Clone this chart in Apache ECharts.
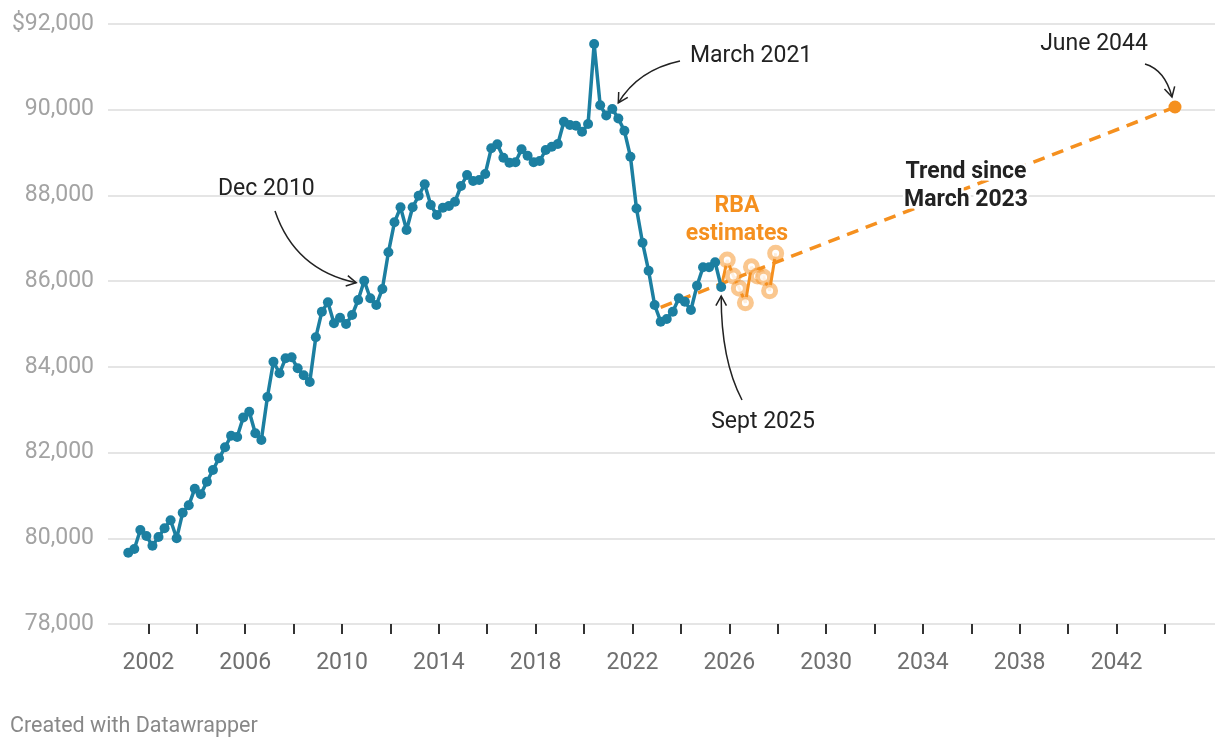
<!DOCTYPE html>
<html><head><meta charset="utf-8">
<script src="https://cdn.jsdelivr.net/npm/echarts@6/dist/echarts.min.js"></script>
<style>html,body{margin:0;padding:0;background:#fff}#c{width:1220px;height:750px}</style>
</head><body><div id="c"></div>
<script>
// ---- data ----
const firstQuarter = 2001 + 2 / 12; // March quarter 2001, quarterly steps
const earnings = [79664,79750,80193,80053,79827,80030,80233,80420,80000,80597,
80770,81157,81026,81320,81593,81866,82123,82394,82363,82818,
82954,82450,82293,83297,84120,83850,84200,84223,83966,83803,
83647,84690,85287,85506,85016,85147,85000,85210,85560,86010,
85600,85443,85817,86673,87373,87723,87193,87723,87994,88260,
87777,87543,87714,87753,87854,88220,88477,88337,88360,88500,
89100,89193,88880,88764,88773,89076,88927,88773,88803,89060,
89137,89200,89720,89643,89627,89487,89667,91533,90103,89865,
90017,89795,89508,88904,87695,86897,86244,85443,85054,85117,
85287,85600,85520,85327,85894,86323,86323,86440,85863];
const rbaEstimates = [86493,86120,85833,85497,86337,86120,86090,85777,86650];
const trendStart = [2023 + 2 / 12, 85390];   // March 2023
const trendEnd = [2044 + 5 / 12, 90063];     // June 2044
const xTickYears = [2002,2004,2006,2008,2010,2012,2014,2016,2018,2020,2022,2024,2026,2028,2030,2032,2034,2036,2038,2040,2042,2044];
const xLabelYears = [2002,2006,2010,2014,2018,2022,2026,2030,2034,2038,2042];

// ---- build ----
const qx = i => firstQuarter + i * 0.25;
const actualData = earnings.map((v, i) => [qx(i), v]);
const lastIdx = earnings.length - 1;
const estData = [{ value: [qx(lastIdx), earnings[lastIdx]], symbol: 'none' }]
  .concat(rbaEstimates.map((v, j) => [qx(lastIdx + 1 + j), v]));
const trendData = [{ value: trendStart, symbol: 'none' }, { value: trendEnd, symbol: 'circle', symbolSize: 13 }];

const BLUE = '#1c7fa1', ORANGE = '#f5901f', FONT = 'Roboto';
const chart = echarts.init(document.getElementById('c'));
chart.setOption({
  animation: false,
  textStyle: { fontFamily: FONT },
  grid: { left: 108, right: 5, top: 24, bottom: 126, containLabel: false },
  xAxis: {
    type: 'value', min: 2000.33, max: 2046.07,
    axisLine: { show: false },
    splitLine: { show: false },
    axisTick: { show: true, customValues: xTickYears, length: 10, lineStyle: { color: '#333', width: 2 } },
    axisLabel: { customValues: xLabelYears, color: '#6f6f6f', fontSize: 23, margin: 28, fontFamily: FONT, formatter: v => String(v) }
  },
  yAxis: {
    type: 'value', min: 78000, max: 92000, interval: 2000,
    axisLine: { show: false }, axisTick: { show: false },
    splitLine: { lineStyle: { color: '#e5e5e5', width: 2 } },
    axisLabel: { color: '#a3a3a3', fontSize: 23, margin: 14, fontFamily: FONT,
      formatter: v => (v === 92000 ? '$' : '') + v.toLocaleString('en-US') }
  },
  series: [
    { type: 'line', data: trendData, z: 1, symbol: 'none', itemStyle: { color: ORANGE },
      lineStyle: { color: ORANGE, width: 3.5, type: [12, 8] }, silent: true },
    { type: 'line', data: estData, z: 2, symbol: 'circle', symbolSize: 12,
      itemStyle: { color: 'rgba(255,255,255,0.85)', borderColor: 'rgba(245,144,31,0.5)', borderWidth: 5 },
      lineStyle: { color: ORANGE, width: 3 }, silent: true },
    { type: 'line', data: actualData, z: 3, symbol: 'circle', symbolSize: 10,
      itemStyle: { color: BLUE }, lineStyle: { color: BLUE, width: 3.5 }, silent: true }
  ]
});

// ---- annotations ----
const P = v => chart.convertToPixel({ gridIndex: 0 }, v);
function arrow(sx, sy, cx, cy, tx, ty) {
  const a = Math.atan2(ty - cy, tx - cx), L = 11, th = 0.5;
  const w1 = [tx - L * Math.cos(a - th), ty - L * Math.sin(a - th)];
  const w2 = [tx - L * Math.cos(a + th), ty - L * Math.sin(a + th)];
  return [
    { type: 'bezierCurve', shape: { x1: sx, y1: sy, cpx1: cx, cpy1: cy, x2: tx, y2: ty },
      style: { stroke: '#222', lineWidth: 1.5, fill: null }, z: 50 },
    { type: 'polyline', shape: { points: [w1, [tx, ty], w2] },
      style: { stroke: '#222', lineWidth: 1.5, fill: null }, z: 50 }
  ];
}
function label(text, x, y, align, extra) {
  return { type: 'text', x: x, y: y, z: 60,
    style: Object.assign({ text: text, fill: '#222', font: '23px ' + FONT, align: align, verticalAlign: 'middle' }, extra || {}) };
}
const pDec = P([qx(39), earnings[39]]);
const pMar = P([qx(80), earnings[80]]);
const pSep = P([qx(lastIdx), earnings[lastIdx]]);
const pJun = P(trendEnd);
const els = [].concat(
  arrow(275, 211, 295, 270, pDec[0] - 8, pDec[1] + 2),
  arrow(680, 61, 638, 70, pMar[0] + 6, pMar[1] - 6),
  arrow(742, 400, 721, 360, pSep[0], pSep[1] + 9),
  arrow(1145, 64, 1165, 70, pJun[0] - 3, pJun[1] - 10),
  [
    label('Dec 2010', 218, 189, 'left'),
    label('March 2021', 690, 56, 'left'),
    label('Sept 2025', 763, 422, 'center'),
    label('June 2044', 1094, 44, 'center'),
    label('RBA\nestimates', 737, 220, 'center', { fill: ORANGE, font: 'bold 23px ' + FONT, lineHeight: 28 }),
    label('Trend since\nMarch 2023', 966, 186, 'center', { font: 'bold 23px ' + FONT, lineHeight: 28, stroke: '#fff', lineWidth: 5 }),
    label('Created with Datawrapper', 10, 727, 'left', { fill: '#888', font: '21.5px ' + FONT })
  ]
);
chart.setOption({ graphic: { elements: els } });
</script></body></html>
